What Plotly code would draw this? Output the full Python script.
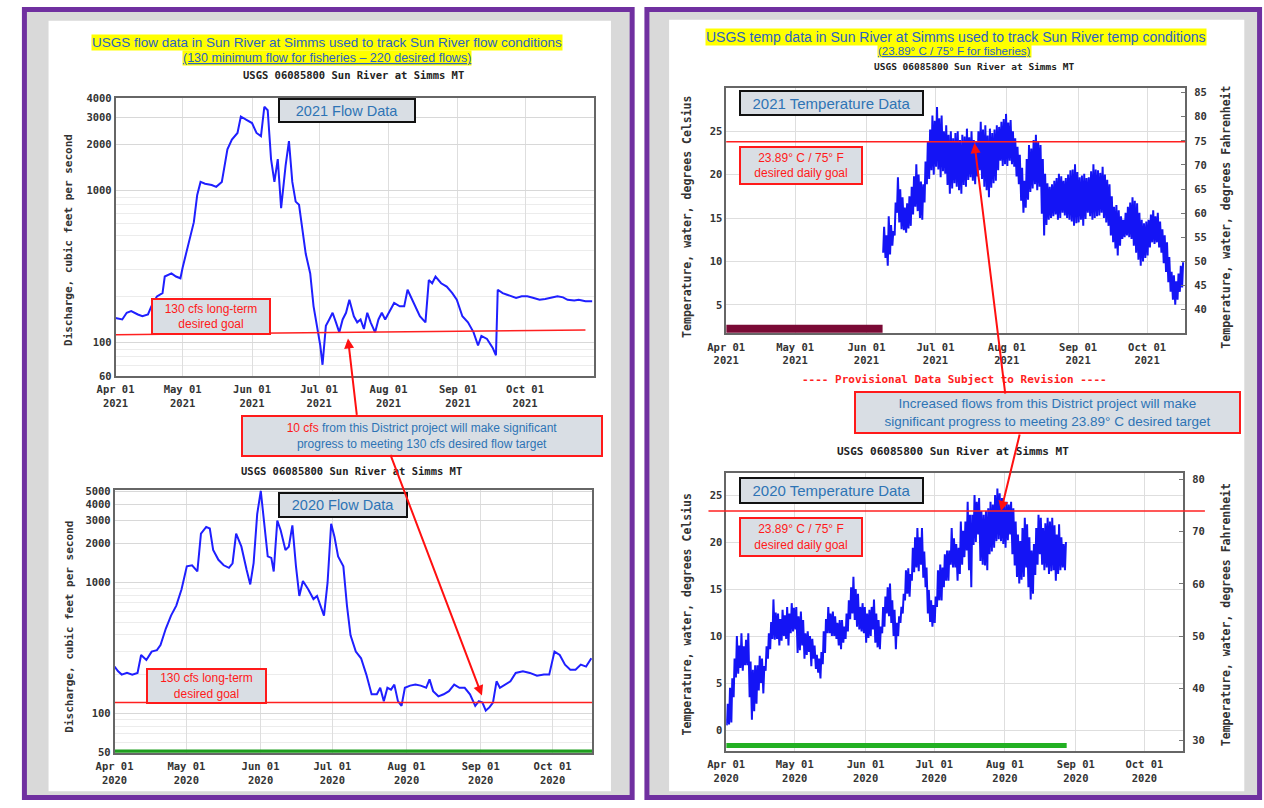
import math
import pandas as pd
import plotly.graph_objects as go

W, H = 1264, 808
def PX(x): return x / W
def PY(y): return 1 - y / H

# ---------------- data ----------------
flow21_start = "2021-04-01"
flow21_day = [0, 3, 5, 7, 10, 12, 14.5, 16, 18.5, 21, 22, 25, 27, 29, 30, 33, 35, 36.5, 38, 40,
              43, 45, 47.5, 50, 52, 54.5, 56, 58.5, 61, 63, 65, 66.5, 68, 69.5, 71, 72.5, 74, 76, 77.5, 79,
              80.5, 82, 83.5, 85, 87, 88.5, 90, 91.5, 92.5, 94, 95.5, 97, 98.5, 100, 101.5, 103, 104.5, 106.5, 108, 109.5,
              111, 112.5, 114, 116, 117.5, 119, 120.5, 122, 124.5, 127, 129, 130.5, 132.5, 134, 136, 138.5, 140, 141.5, 143, 145.5,
              148, 150.5, 152.5, 155, 157.5, 160, 162, 163.5, 166, 168.5, 170, 170.8, 173, 175, 177, 179, 181.5, 184, 186.5, 189.5,
              192, 194.5, 197.5, 200, 202, 205, 207, 210, 213]
flow21_cfs = [144, 141, 156, 160, 152, 148, 152, 172, 200, 210, 270, 283, 270, 263, 310, 465, 615, 930, 1132, 1100,
              1080, 1050, 1132, 1855, 2150, 2376, 3048, 2899, 2760, 2376, 2264, 3533, 3350, 1599, 1132, 1599, 761, 1450, 2100, 1132,
              840, 800, 538, 381, 283, 172, 128, 95, 71, 128, 141, 156, 135, 116, 141, 156, 190, 148, 135, 141,
              122, 156, 135, 116, 141, 156, 141, 156, 181, 172, 172, 221, 190, 172, 148, 135, 256, 244, 270, 244,
              232, 210, 190, 148, 135, 116, 95, 110, 105, 92, 82, 221, 210, 205, 200, 195, 200, 200, 196, 190,
              192, 196, 200, 197, 190, 188, 190, 186, 186]

flow20_start = "2020-04-01"
flow20_day = [0, 1.5, 3, 5.2, 7.4, 9.6, 11.1, 13.3, 15.5, 17.7, 19.2, 21.4, 23.6, 25.8, 28, 30.2, 32.4, 34.6, 36.1, 38.3,
              39.8, 41.2, 43.4, 45.6, 47.8, 49.3, 50.8, 53, 55.2, 56.7, 58.1, 59.6, 61.1, 62.5, 64, 65.5, 66.5, 68, 69.4, 71.4,
              72.8, 74.3, 75.8, 77.2, 78.7, 80.9, 83.1, 84.6, 86, 87.5, 89, 90.5, 91.9, 93.4, 95.6, 97.1, 98.6, 100.8, 103, 105.2,
              107.4, 109.6, 111, 112.5, 114, 115.5, 116.9, 118.4, 119.9, 121.3, 123.5, 125.7, 127.9, 130.2, 131.6, 133.1, 135.3, 137.5, 139.7, 141.9,
              144.1, 146.3, 148.5, 150.7, 152.2, 153.7, 155.1, 156.6, 158.1, 159.6, 161, 163.2, 165.4, 167.6, 170.6, 173.5, 176.5, 179.4, 181.6, 183.8,
              186, 188.2, 190.4, 192.6, 194.8, 197, 199.2]
flow20_cfs = [228, 210, 198, 204, 198, 204, 280, 256, 297, 305, 333, 444, 560, 668, 891, 1334, 1360, 1220, 2378, 2673,
              2600, 1780, 1498, 1360, 1300, 1410, 2378, 1888, 1250, 970, 1410, 3350, 5050, 2830, 1590, 1550, 1220, 2990, 2520, 1780,
              1888, 2750, 1334, 793, 1030, 891, 750, 793, 668, 560, 1000, 2830, 2240, 1590, 1334, 668, 396, 297, 264, 198,
              140, 140, 157, 124, 157, 152, 166, 124, 114, 157, 163, 166, 163, 157, 182, 148, 135, 140, 148, 166,
              157, 157, 140, 114, 124, 121, 105, 111, 121, 176, 157, 166, 176, 204, 210, 204, 194, 198, 198, 297,
              280, 236, 216, 216, 236, 228, 264]

# daily water temperature (deg C), min and max, 2021 from Jun 08
temp21_start = "2021-06-08"
temp21_max = [14.0, 13.0, 15.2, 14.2, 13.5, 16.8, 19.7, 18.3, 17.4, 16.2,
              16.7, 17.5, 18.6, 19.8, 21.2, 20.0, 19.2, 18.9, 21.5, 23.8,
              25.2, 26.8, 26.2, 27.8, 26.5, 26.8, 25.0, 25.7, 24.6, 25.0,
              24.2, 24.8, 25.0, 24.0, 24.6, 24.4, 25.3, 24.3, 25.0, 24.0,
              23.8, 25.0, 26.1, 25.2, 25.7, 24.5, 25.3, 24.8, 25.2, 25.7,
              25.5, 26.1, 26.4, 27.0, 26.0, 26.3, 25.0, 24.2, 23.2, 22.3,
              20.8, 19.3, 21.8, 23.4, 23.0, 24.0, 24.6, 23.8, 23.4, 21.8,
              20.1, 19.0, 18.6, 18.9, 19.3, 19.6, 20.1, 19.8, 19.3, 19.6,
              20.0, 20.5, 20.6, 21.2, 20.3, 19.7, 19.9, 20.1, 19.6, 19.7,
              20.4, 21.2, 20.6, 20.5, 20.2, 20.9, 20.0, 19.4, 18.9, 17.5,
              16.3, 16.5, 15.9, 15.2, 14.8, 15.6, 16.3, 16.8, 17.4, 17.0,
              16.7, 15.6, 14.8, 14.4, 14.6, 14.8, 15.4, 15.9, 15.2, 15.6,
              14.6, 13.7, 13.0, 12.2, 10.5, 8.8, 8.4, 7.7, 8.6, 9.5, 9.9]
temp21_min = [11.0, 10.4, 9.5, 10.8, 11.8, 13.0, 15.6, 14.5, 13.7, 13.6,
              13.3, 13.8, 14.1, 15.4, 16.3, 15.8, 15.0, 14.8, 16.8, 18.9,
              19.5, 20.5, 20.0, 20.9, 20.6, 19.7, 20.4, 20.1, 18.8, 17.8,
              18.4, 19.0, 18.6, 18.2, 17.8, 18.8, 18.6, 19.4, 19.7, 19.3,
              18.9, 19.8, 20.5, 19.5, 18.6, 18.2, 17.4, 18.5, 19.0, 19.3,
              20.5, 21.6, 21.0, 21.2, 21.0, 21.6, 21.2, 20.9, 19.8, 18.9,
              17.0, 15.6, 16.2, 17.1, 18.0, 18.4, 18.9, 18.2, 18.6, 15.5,
              13.0, 14.2, 14.8, 15.0, 15.2, 15.4, 14.8, 15.0, 15.6, 15.3,
              15.0, 14.8, 14.6, 14.1, 14.4, 14.5, 14.8, 14.1, 14.9, 15.6,
              15.2, 14.8, 15.0, 15.2, 15.3, 15.6, 15.0, 14.5, 14.1, 13.0,
              12.2, 11.5, 10.7, 11.8, 12.6, 12.8, 13.0, 12.8, 12.6, 11.8,
              11.0, 10.2, 9.5, 10.0, 10.4, 10.7, 11.6, 12.2, 12.0, 12.2,
              11.6, 11.0, 9.8, 8.8, 7.6, 6.5, 5.6, 5.0, 5.6, 6.5, 7.0]

# daily water temperature (deg C), min and max, 2020 from Apr 01
temp20_start = "2020-04-01"
temp20_max = [2.8, 4.5, 5.5, 7.6, 10.0, 9.0, 10.3, 8.9, 9.6, 10.3,
              7.3, 6.4, 6.9, 6.9, 7.9, 7.6, 6.8, 8.9, 10.3, 11.5,
              13.9, 12.5, 12.4, 11.8, 12.8, 12.2, 13.1, 12.4, 13.5, 13.0,
              13.1, 12.1, 12.6, 11.7, 10.3, 10.5, 10.0, 9.7, 9.0, 8.0,
              7.6, 8.3, 10.5, 11.8, 13.1, 12.4, 12.6, 12.1, 11.4, 11.7,
              11.7, 11.0, 12.4, 13.8, 15.2, 16.3, 15.0, 14.5, 13.1, 13.5,
              13.1, 12.4, 12.8, 13.1, 13.9, 12.4, 11.7, 11.0, 13.1, 14.2,
              15.2, 15.6, 13.8, 12.8, 11.4, 12.1, 13.1, 14.5, 17.0, 17.2,
              16.6, 19.4, 20.5, 21.5, 20.5, 21.5, 19.0, 17.3, 14.9, 13.8,
              13.3, 14.2, 17.0, 17.6, 17.3, 18.7, 19.1, 19.1, 21.5, 20.4,
              19.8, 19.4, 22.2, 21.2, 22.2, 24.3, 22.9, 22.9, 25.0, 24.3,
              24.7, 23.3, 22.9, 23.3, 23.6, 24.3, 24.0, 25.0, 25.7, 25.2,
              24.7, 24.0, 24.3, 24.0, 24.3, 23.6, 22.2, 20.8, 20.1, 21.5,
              22.6, 21.9, 20.5, 19.1, 19.8, 21.5, 22.9, 22.6, 21.5, 22.0,
              22.6, 22.2, 22.6, 21.8, 20.8, 21.9, 20.5, 19.8, 20.0]
temp20_min = [0.5, 0.6, 0.8, 3.5, 5.6, 6.0, 6.6, 6.3, 6.9, 6.9,
              3.5, 1.1, 2.0, 2.8, 4.2, 5.0, 3.9, 6.3, 7.6, 8.6,
              9.7, 9.6, 9.7, 9.0, 9.5, 10.0, 9.7, 9.0, 10.3, 10.5,
              10.7, 8.2, 8.5, 9.0, 7.6, 8.0, 8.3, 6.8, 7.6, 6.5,
              6.1, 5.5, 7.0, 8.2, 10.3, 10.3, 10.0, 10.0, 9.7, 9.0,
              8.6, 9.3, 9.7, 10.5, 11.8, 12.4, 11.7, 11.0, 10.7, 10.5,
              10.3, 9.3, 9.8, 10.0, 10.7, 9.3, 8.8, 8.6, 10.3, 11.0,
              12.4, 12.1, 11.4, 10.0, 8.6, 10.0, 11.4, 12.4, 13.8, 14.5,
              14.2, 15.9, 16.8, 17.3, 16.9, 17.6, 16.2, 15.2, 12.4, 11.5,
              11.0, 11.4, 13.1, 13.8, 13.8, 15.2, 15.9, 15.9, 17.6, 17.3,
              17.3, 15.9, 16.6, 17.6, 18.4, 19.1, 17.0, 15.2, 19.7, 20.0,
              20.8, 18.0, 17.6, 17.5, 17.0, 18.7, 19.0, 19.4, 20.1, 20.3,
              20.1, 19.8, 19.4, 20.2, 20.8, 18.7, 17.5, 16.3, 15.6, 16.0,
              16.3, 17.3, 15.2, 13.9, 14.5, 16.5, 17.6, 18.7, 17.6, 17.0,
              17.3, 16.6, 16.9, 17.0, 15.9, 16.6, 17.0, 17.3, 17.0]

# goal lines as drawn on the picture
goal21_dates = ["2021-04-01", "2021-10-28"]
goal21_cfs = [112, 120]
goal20_cfs = 121
goal_t21 = 23.8
goal_t20 = 23.3

# status bars
ice21_period = ["2021-04-01", "2021-06-08"]
approved20_flow = ["2020-04-01", "2020-10-17 14:00"]
approved20_temp = ["2020-04-01", "2020-08-28"]

months = ["Apr", "May", "Jun", "Jul", "Aug", "Sep", "Oct"]
month_nums = [4, 5, 6, 7, 8, 9, 10]

# ---------------- helpers ----------------
def to_dates(start, days):
    t0 = pd.Timestamp(start)
    return [t0 + pd.Timedelta(days=d) for d in days]

def band(start, tmin, tmax):
    t0 = pd.Timestamp(start)
    xs, ys = [], []
    for i, (lo, hi) in enumerate(zip(tmin, tmax)):
        xs += [t0 + pd.Timedelta(days=i, hours=6), t0 + pd.Timedelta(days=i, hours=16)]
        ys += [lo, hi]
    return xs, ys

MONO = "DejaVu Sans Mono"
SANS = "Liberation Sans, Arial"
BLUE_LINE = "#1f1fff"
TXT_BLUE = "#2a62c4"
BOX_FILL = "#d9dee4"

fig = go.Figure()

# flow 2021
fig.add_trace(go.Scatter(x=to_dates(flow21_start, flow21_day), y=flow21_cfs, mode="lines",
                         line=dict(color=BLUE_LINE, width=2), xaxis="x", yaxis="y", showlegend=False))
fig.add_trace(go.Scatter(x=goal21_dates, y=goal21_cfs, mode="lines",
                         line=dict(color="#ff2020", width=1.5), xaxis="x", yaxis="y", showlegend=False))
# flow 2020
fig.add_trace(go.Scatter(x=approved20_flow, y=[51, 51], mode="lines",
                         line=dict(color="#1f9e1f", width=4), xaxis="x2", yaxis="y2", showlegend=False))
fig.add_trace(go.Scatter(x=to_dates(flow20_start, flow20_day), y=flow20_cfs, mode="lines",
                         line=dict(color=BLUE_LINE, width=2), xaxis="x2", yaxis="y2", showlegend=False))
fig.add_trace(go.Scatter(x=approved20_flow, y=[goal20_cfs, goal20_cfs], mode="lines",
                         line=dict(color="#ff2020", width=1.5), xaxis="x2", yaxis="y2", showlegend=False))
# temp 2021
bx, by = band(temp21_start, temp21_min, temp21_max)
fig.add_trace(go.Scatter(x=ice21_period, y=[2.25, 2.25], mode="lines",
                         line=dict(color="#7a0a35", width=8), xaxis="x3", yaxis="y3", showlegend=False))
fig.add_trace(go.Scatter(x=bx, y=by, mode="lines", line=dict(color="#1414f5", width=2),
                         xaxis="x3", yaxis="y3", showlegend=False))
fig.add_trace(go.Scatter(x=[bx[0]], y=[by[0] * 9 / 5 + 32], mode="markers", marker=dict(opacity=0),
                         xaxis="x3", yaxis="y5", showlegend=False, hoverinfo="skip"))
# temp 2020
cx, cy = band(temp20_start, temp20_min, temp20_max)
fig.add_trace(go.Scatter(x=approved20_temp, y=[-1.65, -1.65], mode="lines",
                         line=dict(color="#22b022", width=5), xaxis="x4", yaxis="y4", showlegend=False))
fig.add_trace(go.Scatter(x=cx, y=cy, mode="lines", line=dict(color="#1414f5", width=2),
                         xaxis="x4", yaxis="y4", showlegend=False))
fig.add_trace(go.Scatter(x=[cx[0]], y=[cy[0] * 9 / 5 + 32], mode="markers", marker=dict(opacity=0),
                         xaxis="x4", yaxis="y6", showlegend=False, hoverinfo="skip"))

tickfont = dict(family=MONO, size=10.5, color="#333", weight="bold")

def xaxis(year, dom, rng, anchor):
    tv = [f"{year}-{m:02d}-01" for m in month_nums]
    tt = [f"{mn} 01<br>{year}" for mn in months]
    return dict(domain=dom, anchor=anchor, type="date", range=rng, tickmode="array",
                tickvals=tv, ticktext=tt, tickfont=tickfont, showgrid=True, gridcolor="#dedede",
                gridwidth=1, showline=True, mirror=True, linecolor="#666", linewidth=1.5,
                ticks="", zeroline=False, fixedrange=True, ticklabelstandoff=3)

grid_minor = dict(showgrid=True, gridcolor="#ececec", ticks="")

fig.update_layout(
    width=W, height=H, margin=dict(l=0, r=0, t=0, b=0), autosize=False,
    paper_bgcolor="white", plot_bgcolor="white", showlegend=False,
    xaxis=xaxis(2021, [PX(98), PX(584)], ["2021-04-01", "2021-10-31 22:00"], "y"),
    xaxis2=xaxis(2020, [PX(97), PX(582)], ["2020-04-01", "2020-10-17 14:00"], "y2"),
    xaxis3=xaxis(2021, [PX(718), PX(1184)], ["2021-04-01", "2021-10-17 14:00"], "y3"),
    xaxis4=xaxis(2020, [PX(718), PX(1182)], ["2020-04-01", "2020-10-18"], "y4"),
    yaxis=dict(domain=[PY(376), PY(94)], anchor="x", type="log",
               range=[math.log10(60), math.log10(4050)], tickmode="array",
               tickvals=[60, 100, 1000, 2000, 3000, 4000], ticktext=["60", "100", "1000", "2000", "3000", "4000"],
               tickfont=tickfont, showgrid=True, gridcolor="#d8d8d8", showline=True, mirror=True,
               linecolor="#666", linewidth=1.5, ticks="", zeroline=False,
               minor=dict(tickmode="array", tickvals=[70, 80, 90, 200, 300, 400, 500, 600, 700, 800, 900], **grid_minor)),
    yaxis2=dict(domain=[PY(758), PY(492)], anchor="x2", type="log",
                range=[math.log10(50), math.log10(5100)], tickmode="array",
                tickvals=[50, 100, 1000, 2000, 3000, 4000, 5000],
                ticktext=["50", "100", "1000", "2000", "3000", "4000", "5000"],
                tickfont=tickfont, showgrid=True, gridcolor="#d8d8d8", showline=True, mirror=True,
                linecolor="#666", linewidth=1.5, ticks="", zeroline=False,
                minor=dict(tickmode="array", tickvals=[60, 70, 80, 90, 200, 300, 400, 500, 600, 700, 800, 900], **grid_minor)),
    yaxis3=dict(domain=[PY(333), PY(84)], anchor="x3", range=[1.7, 30], tickmode="array",
                tickvals=[5, 10, 15, 20, 25], tickfont=tickfont, showgrid=True, gridcolor="#dedede",
                showline=True, mirror=True, linecolor="#666", linewidth=1.5, ticks="", zeroline=False),
    yaxis5=dict(overlaying="y3", anchor="x3", side="right", range=[1.7 * 1.8 + 32, 30 * 1.8 + 32],
                tickmode="array", tickvals=[40, 45, 50, 55, 60, 65, 70, 75, 80, 85], tickfont=tickfont,
                showgrid=False, ticks="inside", ticklen=4, tickcolor="#777", zeroline=False, showline=False,
                ticklabelstandoff=8),
    yaxis4=dict(domain=[PY(756), PY(474)], anchor="x4", range=[-2.2, 27.4], tickmode="array",
                tickvals=[0, 5, 10, 15, 20, 25], tickfont=tickfont, showgrid=True, gridcolor="#dedede",
                showline=True, mirror=True, linecolor="#666", linewidth=1.5, ticks="", zeroline=False),
    yaxis6=dict(overlaying="y4", anchor="x4", side="right", range=[-2.2 * 1.8 + 32, 27.4 * 1.8 + 32],
                tickmode="array", tickvals=[30, 40, 50, 60, 70, 80], tickfont=tickfont,
                showgrid=False, ticks="inside", ticklen=4, tickcolor="#777", zeroline=False, showline=False,
                ticklabelstandoff=8),
)

# ---------------- panel backgrounds ----------------
shapes = []
for (x0, x1, wx0, wx1, wy0) in [(5.5, 622.5, 30, 601, 16), (637.5, 1259.5, 660, 1244, 15)]:
    shapes.append(dict(type="rect", xref="paper", yref="paper", x0=PX(x0), x1=PX(x1), y0=PY(803.5), y1=PY(4.5),
                       fillcolor="#d9d9d9", line=dict(color="#7030a0", width=5), layer="below"))
    shapes.append(dict(type="rect", xref="paper", yref="paper", x0=PX(wx0), x1=PX(wx1), y0=PY(797), y1=PY(wy0),
                       fillcolor="white", line=dict(width=0), layer="below"))
# temperature goal lines
shapes.append(dict(type="line", xref="x3 domain", yref="y3", x0=0, x1=1, y0=goal_t21, y1=goal_t21,
                   line=dict(color="#ff2020", width=1.5)))
shapes.append(dict(type="line", xref="paper", yref="y4", x0=PX(700), x1=PX(1204), y0=goal_t20, y1=goal_t20,
                   line=dict(color="#ff2020", width=1.5)))
fig.update_layout(shapes=shapes)

# ---------------- annotations ----------------
ann = []
def text(x, y, t, size, color, family=SANS, bg=None, angle=0, weight="normal"):
    d = dict(x=PX(x), y=PY(y), xref="paper", yref="paper", text=t, showarrow=False,
             font=dict(family=family, size=size, color=color, weight=weight),
             xanchor="center", yanchor="middle", textangle=angle, borderpad=0)
    if bg:
        d["bgcolor"] = bg
    ann.append(d)

def box(cx, cy, w, h, t, size, color, border):
    ann.append(dict(x=PX(cx), y=PY(cy), xref="paper", yref="paper", text=t, showarrow=False,
                    font=dict(family=SANS, size=size, color=color), xanchor="center", yanchor="middle",
                    bgcolor=BOX_FILL, bordercolor=border, borderwidth=2, borderpad=0,
                    width=w - 4, height=h - 4, align="center"))

def arrow(tx, ty, sx, sy):
    ann.append(dict(x=PX(tx), y=PY(ty), xref="paper", yref="paper", text="", showarrow=True,
                    ax=sx - tx, ay=sy - ty, axref="pixel", ayref="pixel", arrowhead=2, arrowsize=1,
                    arrowwidth=2, arrowcolor="#ff1010", standoff=0))

# titles
text(313, 38, "USGS flow data in Sun River at Simms used to track Sun River flow conditions", 13.5, TXT_BLUE, bg="#ffff00")
text(313, 54, "<u>(130 minimum flow for fisheries – 220 desired flows)</u>", 12.5, TXT_BLUE, bg="#ffff00")
text(951, 32, "USGS temp data in Sun River at Simms used to track Sun River temp conditions", 14, TXT_BLUE, bg="#ffff00")
text(950, 47, "<u>(23.89° C / 75° F for fisheries)</u>", 11.5, TXT_BLUE, bg="#ffff00")

# USGS subtitles
sub = "USGS 06085800 Sun River at Simms MT"
text(340, 71, sub, 10.5, "#222", MONO, weight="bold")
text(338, 472, sub, 10.5, "#222", MONO, weight="bold")
text(970, 62, sub, 9.5, "#222", MONO, weight="bold")
text(948, 453, sub, 11, "#222", MONO, weight="bold")

# axis titles
text(51, 238, "Discharge, cubic feet per second", 11, "#333", MONO, angle=-90, weight="bold")
text(51, 630, "Discharge, cubic feet per second", 11, "#333", MONO, angle=-90, weight="bold")
text(678, 215, "Temperature, water, degrees Celsius", 11.5, "#333", MONO, angle=-90, weight="bold")
text(1226, 215, "Temperature, water, degrees Fahrenheit", 11.5, "#333", MONO, angle=-90, weight="bold")
text(678, 618, "Temperature, water, degrees Celsius", 11.5, "#333", MONO, angle=-90, weight="bold")
text(1225, 618, "Temperature, water, degrees Fahrenheit", 11.5, "#333", MONO, angle=-90, weight="bold")

text(950, 380, "---- Provisional Data Subject to Revision ----", 11, "#ff2020", MONO, weight="bold")

# boxes
box(333, 106.5, 138, 25, "2021 Flow Data", 14.5, "#2e74b5", "#111")
box(195, 315.5, 120, 37, "130 cfs long-term<br>desired goal", 12, "#ff1a1a", "#ff1a1a")
box(409, 437, 362, 42, "<span style='color:#ff1a1a'>10 cfs</span> from this District project will make significant"
    "<br>progress to meeting 130 cfs desired flow target", 12, "#2e74b5", "#ff1a1a")
box(329, 507, 130, 26, "2020 Flow Data", 14.5, "#2e74b5", "#111")
box(190.5, 690, 121, 36, "130 cfs long-term<br>desired goal", 12, "#ff1a1a", "#ff1a1a")
box(824.5, 99, 185, 26, "2021 Temperature Data", 15, "#2e74b5", "#111")
box(794, 162.5, 124, 39, "23.89° C / 75° F<br>desired daily goal", 12, "#ff1a1a", "#ff1a1a")
box(1044.5, 413.5, 387, 43, "Increased flows from this District project will make"
    "<br>significant progress to meeting 23.89° C desired target", 13.5, "#2e74b5", "#ff1a1a")
box(824.5, 492.5, 185, 27, "2020 Temperature Data", 15, "#2e74b5", "#111")
box(794, 539, 124, 40, "23.89° C / 75° F<br>desired daily goal", 12, "#ff1a1a", "#ff1a1a")

# arrows
arrow(334, 338, 343, 416)
arrow(470, 700, 378, 458)
arrow(970, 140, 1001, 392)
arrow(997, 513, 1016, 435)

fig.update_layout(annotations=ann)

fig.write_html("out.html", config={"responsive": False, "displayModeBar": False},
               post_script="document.body.style.margin='0';document.body.style.overflow='hidden';")
